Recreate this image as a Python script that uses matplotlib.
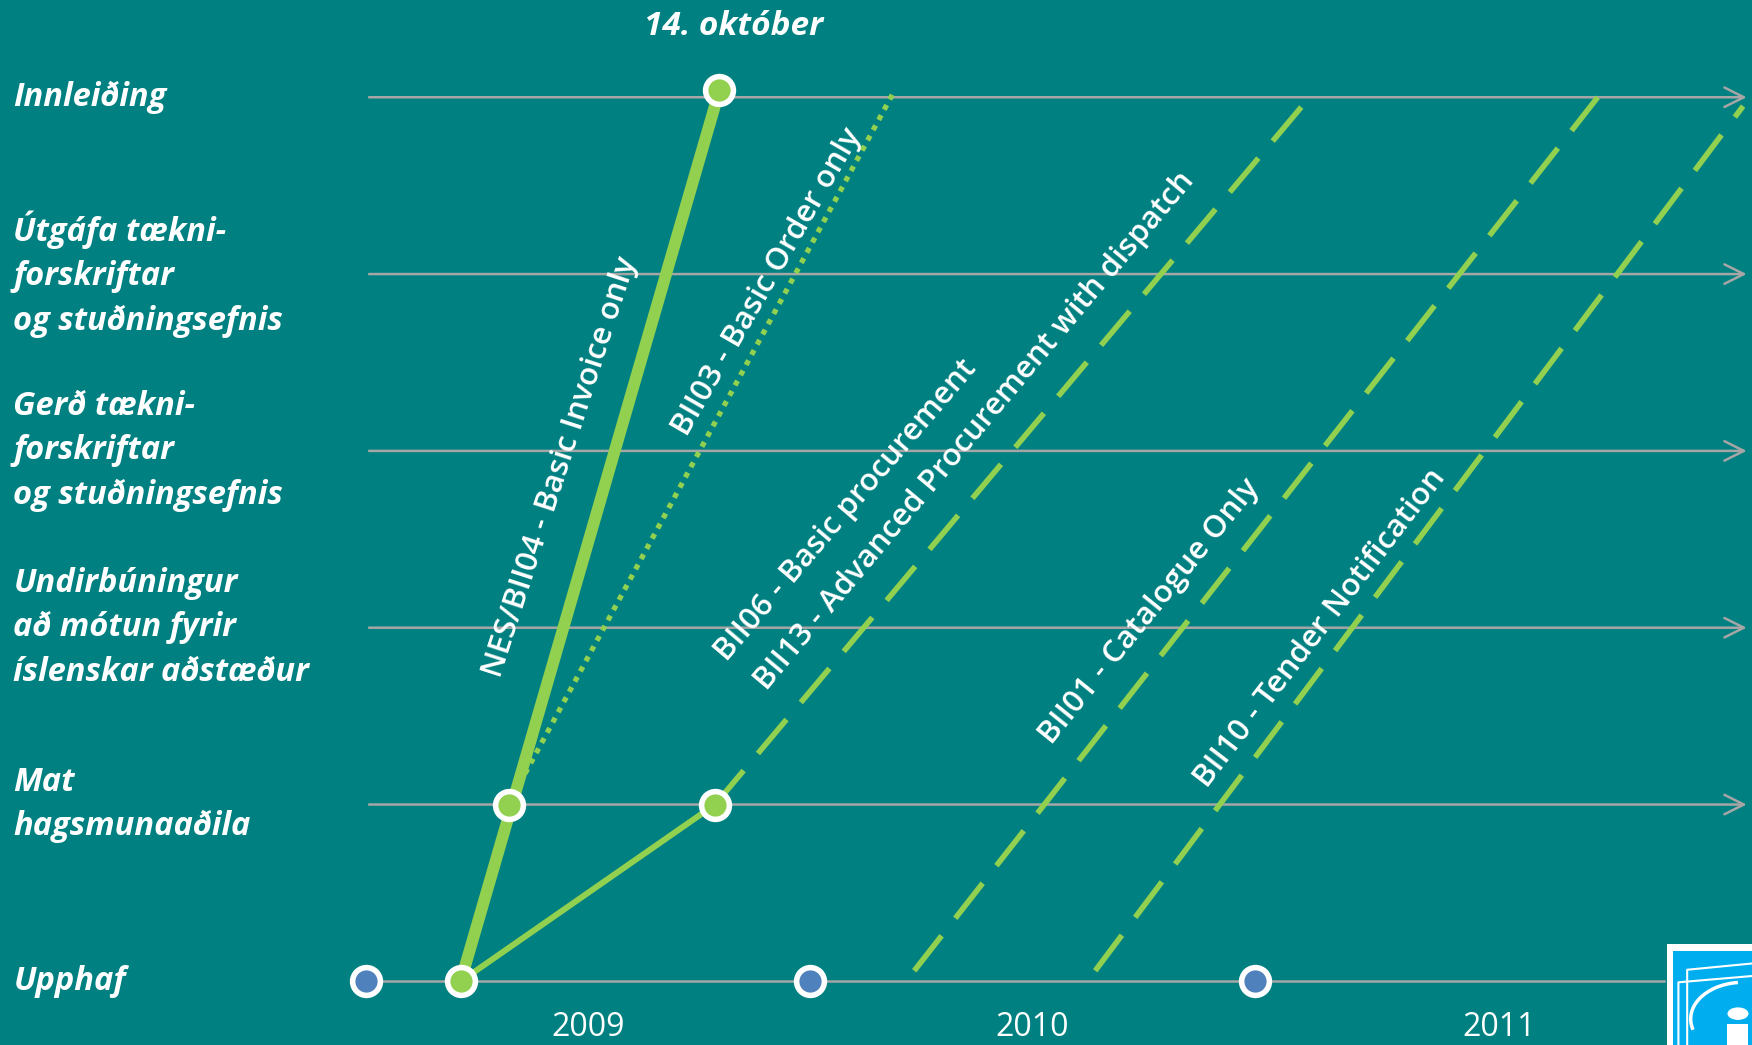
import matplotlib.pyplot as plt
from matplotlib.patches import Rectangle, Circle, Arc

plt.rcParams['font.family'] = ['Open Sans', 'DejaVu Sans']

bg = '#008080'
green = '#92D050'
blue = '#4F81BD'
grey = '#A6A6A6'

# levels from bottom (0) to top (5)
levels = ["Upphaf",
          "Mat\nhagsmunaaðila",
          "Undirbúningur\nað mótun fyrir\níslenskar aðstæður",
          "Gerð tækni-\nforskriftar\nog stuðningsefnis",
          "Útgáfa tækni-\nforskriftar\nog stuðningsefnis",
          "Innleiðing"]
years = [2009, 2010, 2011]
year_label_x = [2009.5, 2010.5, 2011.55]
blue_dots = [2009.0, 2010.0, 2011.0]

# green milestones (time, level)
green_t = [2009.214, 2009.322, 2009.786, 2009.796]
green_l = [0, 1, 1, 5.04]

# tracks: ([start time, end time], [start level, end level])
invoice = ([2009.214, 2009.796], [0, 5.04])
order = ([2009.334, 2010.188], [1.06, 5.03])
procure_start = ([2009.214, 2009.786], [0, 1])
procure = ([2009.786, 2011.123], [1, 5.0])
catalogue = ([2010.234, 2011.771], [0.06, 5.0])
tender = ([2010.641, 2012.098], [0.06, 4.95])

fig = plt.figure(figsize=(17.52, 10.45), dpi=100)
fig.patch.set_facecolor(bg)
ax = fig.add_axes([0, 0, 1, 1])
ax.set_facecolor(bg)
ax.set_xlim(2008.178, 2012.118)
ax.set_ylim(-0.36, 5.55)
ax.axis('off')

# horizontal timelines
for i in range(1, 6):
    ax.annotate('', xy=(2012.106, i), xytext=(2009.008, i),
                arrowprops=dict(arrowstyle='->,head_length=0.7,head_width=0.35',
                                color=grey, lw=1.8, mutation_scale=20,
                                shrinkA=0, shrinkB=0), zorder=1)
ax.plot([2009.0, 2011.92], [0, 0], color=grey, lw=1.8, zorder=1)

# tracks
ax.plot(*invoice, color=green, lw=8.5, solid_capstyle='butt', zorder=2)
ax.plot(*procure_start, color=green, lw=4.3, solid_capstyle='butt', zorder=2)
ax.plot(*order, color=green, lw=3.8, linestyle=(0, (1, 1.2)), zorder=2)
for tr in (procure, catalogue, tender):
    ax.plot(*tr, color=green, lw=4, linestyle=(0, (8, 4)), dash_capstyle='butt', zorder=2)

# dots
ax.plot(blue_dots, [0] * len(blue_dots), 'o', ms=20, mfc=blue, mec='white', mew=4, zorder=4)
ax.plot(green_t, green_l, 'o', ms=20, mfc=green, mec='white', mew=4, zorder=4)

# level labels
for i, lab in enumerate(levels):
    ax.text(0.0077, i, lab, transform=ax.get_yaxis_transform(), color='white',
            fontsize=23.5, fontweight='bold', fontstyle='italic', va='center', ha='left',
            linespacing=1.45)

ax.text(2009.827, 5.40, "14. október", color='white', fontsize=24,
        fontweight='bold', fontstyle='italic', ha='center', va='center')

for x, y in zip(year_label_x, years):
    ax.text(x, -0.262, str(y), color='white', fontsize=23, ha='center', va='center')

# track labels
track_labels = [("NES/BII04 - Basic Invoice only", 2009.440, 2.908, 72),
                ("BII03 - Basic Order only", 2009.905, 3.957, 60),
                ("BII06 - Basic procurement", 2010.080, 2.661, 49.5),
                ("BII13 - Advanced Procurement with dispatch", 2010.369, 3.110, 50),
                ("BII01 - Catalogue Only", 2010.764, 2.092, 51),
                ("BII10 - Tender Notification", 2011.148, 1.997, 52.5)]
for txt, x, y, rot in track_labels:
    ax.text(x, y, txt, color='white', fontsize=22.5, fontweight='semibold', rotation=rot,
            rotation_mode='anchor', ha='center', va='center', zorder=3)

# logo in the corner (partly cut off)
fax = fig.transFigure
fig.patches.append(Rectangle((0.9515, 0), 0.06, 0.097, transform=fax,
                             facecolor='white', edgecolor='none', zorder=5))
fig.patches.append(Rectangle((0.955, 0), 0.06, 0.090, transform=fax,
                             facecolor='#00AEEF', edgecolor='none', zorder=6))
fig.lines.append(plt.Line2D([0.963, 0.963, 1.0], [0, 0.072, 0.078], transform=fax,
                            color='white', lw=1.5, zorder=7))
fig.lines.append(plt.Line2D([0.958, 0.958, 1.0], [0, 0.060, 0.066], transform=fax,
                            color='white', lw=1.5, zorder=7))
fig.patches.append(Arc((0.995, 0.025), 0.06, 0.07, theta1=95, theta2=200, transform=fax,
                       color='white', lw=2.5, zorder=7))
fig.patches.append(Circle((0.992, 0.030), 0.006, transform=fax,
                          facecolor='white', edgecolor='none', zorder=7))
fig.patches.append(Rectangle((0.986, 0), 0.012, 0.020, transform=fax,
                             facecolor='white', edgecolor='none', zorder=7))

fig.savefig('out.png', dpi=100, facecolor=bg)
